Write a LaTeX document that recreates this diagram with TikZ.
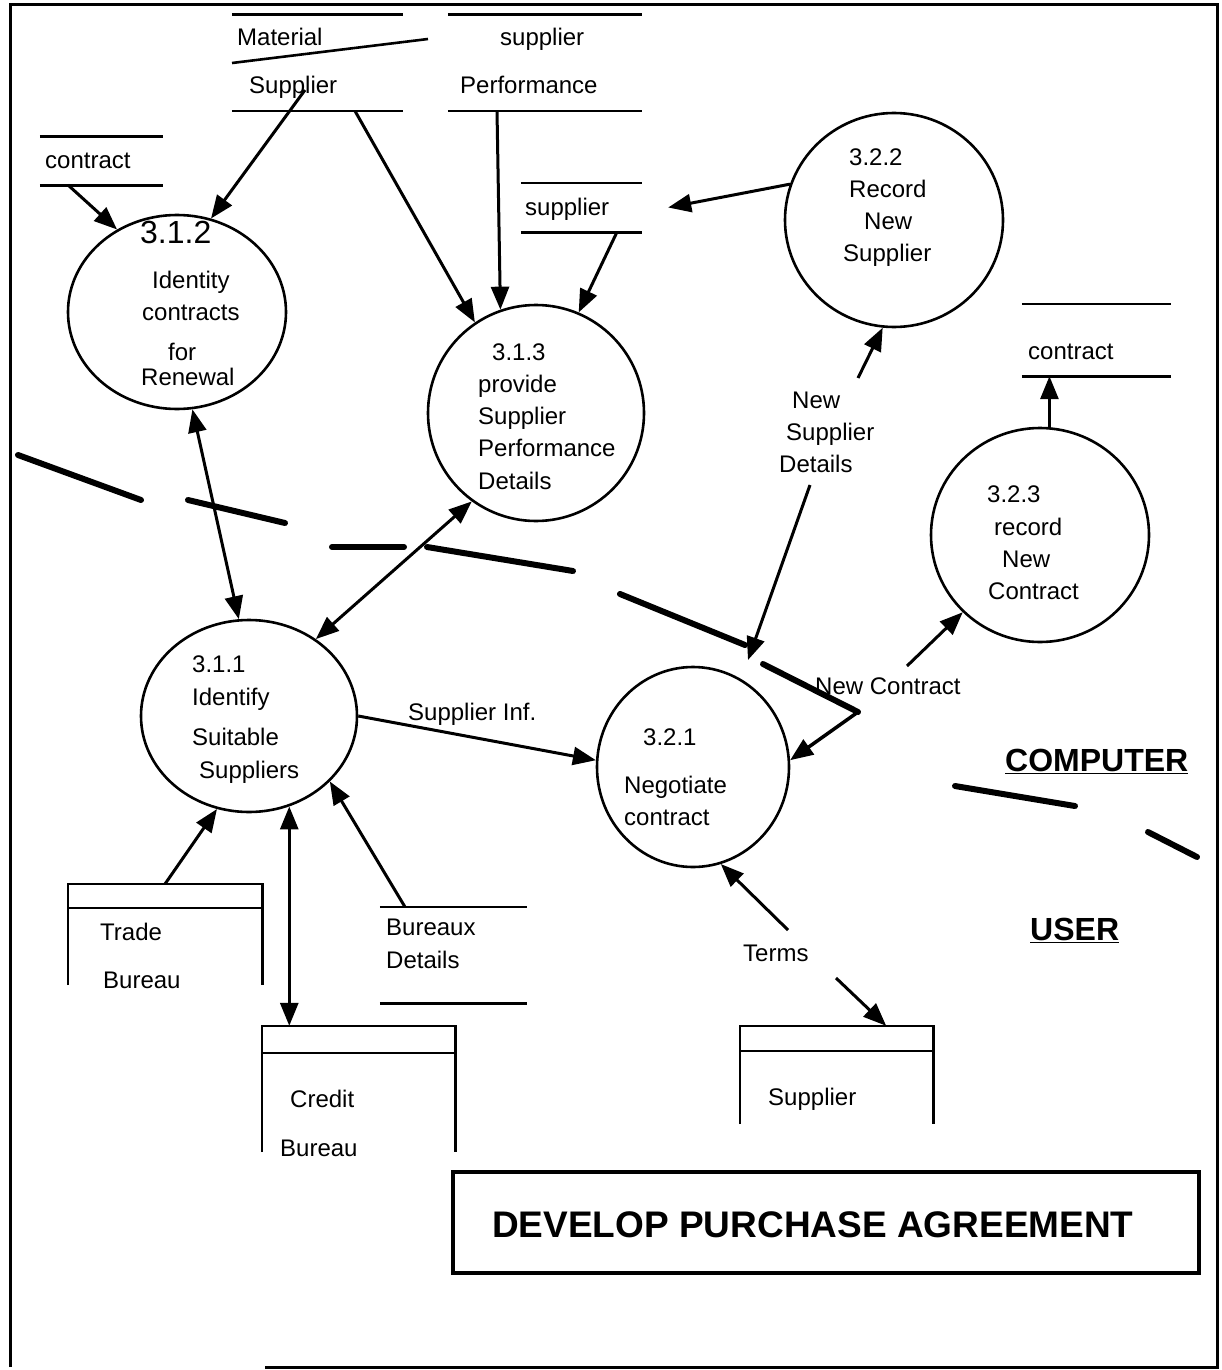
\documentclass[tikz,border=0pt]{standalone}
\usepackage{fontspec}
\setmainfont{Liberation Sans}
\usetikzlibrary{shapes.geometric,arrows.meta,calc}

\tikzset{
  proc/.style={draw, ellipse, line width=2.6pt, inner sep=0pt},
  txt/.style={inner sep=0pt, anchor=mid west, yshift=-6pt, font=\fontsize{24}{28}\selectfont},
  bigtxt/.style={inner sep=0pt, anchor=mid west, yshift=-8pt, font=\fontsize{32}{36}\selectfont},
  heading/.style={inner sep=0pt, anchor=mid west, yshift=-9pt, font=\fontsize{32}{36}\selectfont\bfseries},
  titletxt/.style={inner sep=0pt, anchor=mid west, yshift=-10pt, font=\fontsize{37}{42}\selectfont\bfseries},
  area/.style={inner sep=0pt, minimum width=#1},
  sline/.style={line width=2.6pt},
  flow/.style={line width=3pt, -{Triangle[length=23pt,width=18pt]}},
  twoway/.style={line width=3pt, {Triangle[length=23pt,width=18pt]}-{Triangle[length=23pt,width=18pt]}},
  bound/.style={line width=6pt, line cap=round},
}

\begin{document}
\begin{tikzpicture}[x=1pt, y=-1pt]
\useasboundingbox (0,0) rectangle (1221,1370);

% outer frame
\draw[line width=3pt] (10,1367) -- (10,5) -- (1217,5) -- (1217,1367) -- (265,1367);

% ---------- data stores ----------
\node[area=171pt, minimum height=96pt] (ms)  at (317.5,63) {};
\node[area=194pt, minimum height=96pt] (sp)  at (545,63) {};
\node[area=123pt, minimum height=48pt] (ct1) at (101.5,161) {};
\node[area=121pt, minimum height=49pt] (sd)  at (581.5,207.5) {};
\node[area=149pt, minimum height=72pt] (ct2) at (1096.5,340) {};
\node[area=147pt, minimum height=96pt] (bd)  at (453.5,955) {};
\foreach \s in {ms,sp,ct1,sd,ct2,bd}
  \draw[sline] (\s.north west) -- (\s.north east) (\s.south west) -- (\s.south east);
\draw[sline] (232,63) -- (428,39);

\node[txt] at (237,37) {Material};
\node[txt] at (500,37) {supplier};
\node[txt] at (249,85) {Supplier};
\node[txt] at (460,85) {Performance};
\node[txt] at (45,160) {contract};
\node[txt] at (525,207) {supplier};
\node[txt] at (1028,351) {contract};
\node[txt] at (386,927) {Bureaux};
\node[txt] at (386,960) {Details};

% ---------- external entities (open boxes) ----------
\node[area=194pt, minimum height=101pt] (tb) at (165,934.5) {};
\node[area=193pt, minimum height=126pt] (cb) at (358.5,1089) {};
\node[area=193pt, minimum height=98pt]  (su) at (836.5,1075) {};
\draw[sline] (tb.south west) -- (tb.north west) -- (tb.north east) -- (tb.south east);
\draw[sline] ($(tb.north west)+(0,24)$) -- ($(tb.north east)+(0,24)$);
\draw[sline] (cb.south west) -- (cb.north west) -- (cb.north east) -- (cb.south east);
\draw[sline] ($(cb.north west)+(0,27)$) -- ($(cb.north east)+(0,27)$);
\draw[sline] (su.south west) -- (su.north west) -- (su.north east) -- (su.south east);
\draw[sline] ($(su.north west)+(0,25)$) -- ($(su.north east)+(0,25)$);

\node[txt] at (100,932) {Trade};
\node[txt] at (103,980) {Bureau};
\node[txt] at (290,1099) {Credit};
\node[txt] at (280,1148) {Bureau};
\node[txt] at (768,1097) {Supplier};

% ---------- processes ----------
\node[proc, minimum width=218pt, minimum height=194pt] (p312) at (177,312) {};
\node[proc, minimum width=216pt, minimum height=216pt] (p313) at (536,413) {};
\node[proc, minimum width=218pt, minimum height=214pt] (p322) at (894,220) {};
\node[proc, minimum width=218pt, minimum height=214pt] (p323) at (1040,535) {};
\node[proc, minimum width=216pt, minimum height=192pt] (p311) at (249,716) {};
\node[proc, minimum width=192pt, minimum height=200pt] (p321) at (693,767) {};

\node[bigtxt] at (140,233) {3.1.2};
\node[txt] at (152,280) {Identity};
\node[txt] at (142,312) {contracts};
\node[txt] at (168,352) {for};
\node[txt] at (141,377) {Renewal};

\node[txt] at (492,352) {3.1.3};
\node[txt] at (478,384) {provide};
\node[txt] at (478,416) {Supplier};
\node[txt] at (478,448) {Performance};
\node[txt] at (478,481) {Details};

\node[txt] at (849,157) {3.2.2};
\node[txt] at (849,189) {Record};
\node[txt] at (864,221) {New};
\node[txt] at (843,253) {Supplier};

\node[txt] at (987,494) {3.2.3};
\node[txt] at (994,527) {record};
\node[txt] at (1002,559) {New};
\node[txt] at (988,591) {Contract};

\node[txt] at (192,664) {3.1.1};
\node[txt] at (192,697) {Identify};
\node[txt] at (192,737) {Suitable};
\node[txt] at (199,770) {Suppliers};

\node[txt] at (643,737) {3.2.1};
\node[txt] at (624,785) {Negotiate};
\node[txt] at (624,817) {contract};

% ---------- flow labels ----------
\node[txt] at (408,712) {Supplier Inf.};
\node[txt] at (815,686) {New Contract};
\node[txt] at (792,400) {New};
\node[txt] at (786,432) {Supplier};
\node[txt] at (779,464) {Details};
\node[txt] at (743,953) {Terms};

% ---------- free ends of flows ----------
\coordinate (ms-a) at (305,90);
\coordinate (ms-b) at (355,111);
\coordinate (sp-a) at (497,111);
\coordinate (sd-a) at (617,232);
\coordinate (ct1-a) at (68,185);
\coordinate (nsd-up) at (858,378);
\coordinate (nsd-dn) at (810,485);
\coordinate (nsd-tip) at (748,660);
\coordinate (nc-start) at (907,666);
\coordinate (bd-a) at (405,907);
\coordinate (tb-a) at (165,884);
\coordinate (trm-up) at (788,930);
\coordinate (trm-dn) at (836,978);
\coordinate (bend-start) at (763,664);
\coordinate (bend) at (858,712);

% ---------- flows ----------
\draw[flow] (ms-a) -- (p312.70);
\draw[flow] (ct1-a) -- (p312.126);
\draw[flow] (ms-b) -- (p313.124);
\draw[flow] (sp-a) -- (p313.109);
\draw[flow] (sd-a) -- (p313.67);
\draw[flow] (p322.161) -- ($(sd.east)+(26,0)$);
\draw[twoway] (p312.-81) -- (p311.96);
\draw[twoway] (p313.-126) -- (p311.49);
\draw[flow] (p311.0) -- (p321.176);
\draw[flow] (tb-a) -- (p311.-109);
\draw[twoway] (p311.-66) -- (p311.-66 |- cb.north);
\draw[flow] (bd-a) -- (p311.-39);
\draw[flow] (trm-up) -- (p321.-74);
\draw[flow] (trm-dn) -- ($(su.north east)+(-47,0)$);
\draw[flow] (nsd-up) -- (p322.-96);
\draw[flow] (nsd-dn) -- (nsd-tip);
\draw[flow] (nc-start) -- (p323.-135);
\draw[flow] (p323.85) -- (p323.85 |- ct2.south);
\draw[bound] (bend-start) -- (bend);
\draw[flow, line width=3.5pt] (bend) -- (p321.4);

% ---------- boundary between computer and user ----------
\draw[bound] (18,455) -- (141,500);
\draw[bound] (188,500) -- (285,523);
\draw[bound] (332,547) -- (404,547);
\draw[bound] (427,547) -- (573,571);
\draw[bound] (620,594) -- (745,645);
\draw[bound] (955,786) -- (1075,806);
\draw[bound] (1148,832) -- (1197,857);

\node[heading] at (1005,760) {\underline{COMPUTER}};
\node[heading] at (1030,929) {\underline{USER}};

% ---------- title ----------
\node[draw, line width=4pt, minimum width=746pt, minimum height=101pt, inner sep=0pt] (title) at (826,1222) {};
\node[titletxt] at (492,1225) {DEVELOP PURCHASE AGREEMENT};
\end{tikzpicture}
\end{document}
